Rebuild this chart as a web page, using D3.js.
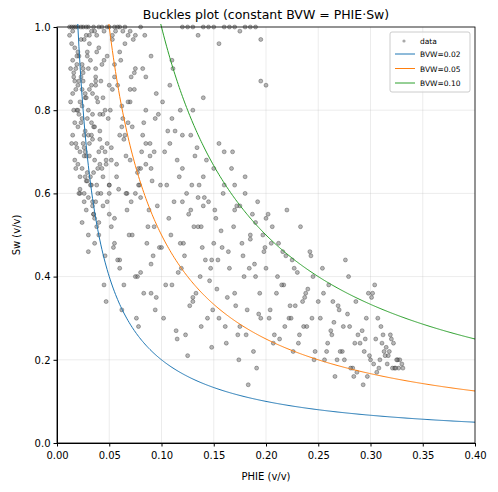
<!DOCTYPE html>
<html><head><meta charset="utf-8">
<script src="https://cdn.jsdelivr.net/npm/d3@7"></script>
<style>body{margin:0;background:#fff}text{font-family:"DejaVu Sans",sans-serif}</style>
</head><body><svg id="c" width="498" height="492"></svg>
<script>
// sample points: [PHIE, Sw]
var phie = [
0.012,0.014,0.015,0.016,0.017,0.018,0.018,0.019,0.02,0.02,0.021,0.022,0.022,0.023,0.024,0.024,0.025,0.026,0.026,0.027,0.028,0.028,0.029,0.03,0.03,0.031,0.032,0.033,0.034,0.035,0.036,0.037,0.038,0.039,0.04,
0.015,0.017,0.019,0.021,0.023,0.025,0.027,0.029,0.031,0.033,0.035,0.037,0.039,0.041,0.043,0.016,0.02,0.024,0.028,0.032,0.036,0.04,0.044,0.018,0.022,0.026,0.03,0.034,0.038,0.042,0.046,
0.02,0.024,0.028,0.03,0.033,0.036,0.04,0.043,0.046,0.05,0.025,0.029,0.034,0.038,0.045,0.048,0.052,0.027,0.031,0.035,0.041,0.047,0.026,0.03,0.037,0.044,0.05,0.055,
0.045,0.048,0.05,0.053,0.055,0.058,0.06,0.062,0.065,0.067,0.07,0.072,0.075,0.078,0.08,0.082,0.085,0.088,0.09,0.093,0.095,0.098,
0.047,0.051,0.054,0.057,0.061,0.064,0.068,0.071,0.074,0.077,0.081,0.084,0.087,0.091,0.094,0.097,0.05,0.056,0.06,0.066,0.07,0.076,0.08,0.086,0.09,0.096,
0.052,0.058,0.063,0.069,0.073,0.079,0.083,0.089,0.092,0.099,0.055,0.062,0.067,0.074,0.078,0.085,0.093,0.06,0.07,0.08,0.09,0.065,0.075,0.085,0.095,
0.1,0.102,0.105,0.108,0.11,0.112,0.115,0.118,0.12,0.122,0.125,0.128,0.13,0.132,0.135,0.138,0.14,0.142,0.145,0.148,0.15,
0.101,0.104,0.107,0.111,0.114,0.117,0.121,0.124,0.127,0.131,0.134,0.137,0.141,0.144,0.147,0.151,0.103,0.109,0.113,0.119,0.123,0.129,0.133,0.139,0.143,0.149,
0.106,0.116,0.126,0.136,0.146,0.108,0.118,0.128,0.138,0.148,0.11,0.12,0.13,0.14,
0.152,0.155,0.158,0.16,0.162,0.165,0.168,0.17,0.172,0.175,0.178,0.18,0.182,0.185,0.188,0.19,0.192,0.195,0.198,0.2,
0.153,0.157,0.161,0.164,0.167,0.171,0.174,0.177,0.181,0.184,0.187,0.191,0.194,0.197,0.154,0.159,0.163,0.169,0.173,0.179,0.183,0.189,0.193,0.199,
0.12,0.13,0.14,0.15,0.16,0.17,0.18,0.19,0.125,0.145,0.165,0.185,0.135,0.155,0.175,0.195,
0.2,0.203,0.206,0.21,0.213,0.216,0.22,0.223,0.226,0.23,0.233,0.236,0.24,0.243,0.246,0.25,0.202,0.207,0.212,0.217,0.222,0.227,0.232,0.237,0.242,0.247,
0.204,0.211,0.218,0.225,0.231,0.238,0.244,0.205,0.215,0.224,0.235,0.245,0.208,0.219,0.228,0.239,
0.252,0.256,0.26,0.263,0.266,0.27,0.273,0.276,0.28,0.283,0.286,0.29,0.293,0.296,0.3,0.302,0.305,0.308,0.31,0.313,0.316,0.32,0.323,0.326,0.33,
0.254,0.259,0.264,0.268,0.274,0.279,0.284,0.288,0.294,0.298,0.303,0.307,0.312,0.317,0.322,0.327,0.255,0.262,0.271,0.278,0.287,0.295,0.304,0.315,0.325,
0.258,0.269,0.281,0.292,0.299,0.306,0.311,0.318,0.321,0.328,0.265,0.275,0.285,0.297,0.309,0.319,0.324,0.301,0.314,0.331,
0.012,0.016,0.02,0.025,0.03,0.035,0.04,0.045,0.05,0.055,0.06,0.065,0.07,0.075,0.08,0.014,0.018,0.023,0.028,0.033,0.038,0.043,0.048,0.053,0.058,0.063,0.068,
0.11,0.12,0.13,0.14,0.15,0.16,0.17,0.175,0.18,0.19,0.195,0.2,0.115,0.135,0.155,0.17,0.185,
0.013,0.015,0.017,0.019,0.021,0.022,0.024,0.026,0.027,0.029,0.031,0.032,0.034,0.036,0.037,0.039,0.041,0.042,0.044,0.047,0.049,0.052,0.057,0.062,0.066,0.072,0.078,0.085,
0.013,0.015,0.017,0.019,0.021,0.023,0.025,0.027,0.029,0.031,0.034,0.036,0.038,0.041,0.044,0.048,0.053,0.059,0.064,0.071,0.077,0.082,0.089,0.094,
0.014,0.016,0.018,0.02,0.022,0.024,0.026,0.028,0.03,0.033,0.035,0.037,0.04,0.043,0.046,0.05,0.055,0.06,0.068,0.075,0.083,0.09
];
var sw = [
0.98,0.96,0.92,0.88,0.95,0.85,0.9,0.8,0.86,0.76,0.93,0.82,0.7,0.88,0.78,0.66,0.9,0.74,0.6,0.84,0.69,0.56,0.94,0.8,0.5,0.72,0.64,0.86,0.58,0.76,0.68,0.9,0.62,0.82,0.7,
0.99,0.87,0.91,0.79,0.97,0.72,0.83,0.65,0.98,0.77,0.55,0.88,0.6,0.75,0.66,0.8,0.94,0.85,0.63,0.92,0.48,0.95,0.57,0.72,0.6,0.97,0.74,0.84,0.52,0.87,0.7,
0.67,0.53,0.98,0.46,0.62,0.99,0.5,0.91,0.45,0.6,0.87,0.78,0.73,0.83,0.38,0.93,0.52,0.64,0.96,0.55,0.79,0.68,0.71,0.9,0.58,0.64,0.86,0.48,
0.92,0.72,0.62,0.98,0.54,0.86,0.44,0.76,0.96,0.6,0.82,0.5,0.9,0.66,0.41,0.74,0.88,0.56,0.36,0.7,0.84,0.47,
0.34,0.8,0.47,0.67,0.92,0.38,0.77,0.58,0.89,0.4,0.7,0.98,0.52,0.63,0.32,0.79,0.55,0.99,0.42,0.6,0.85,0.3,0.66,0.48,0.93,0.57,
0.68,0.44,0.78,0.5,0.97,0.62,0.36,0.72,0.45,0.62,0.88,0.32,0.56,0.85,0.28,0.67,0.52,0.94,0.68,0.59,0.43,0.74,0.4,0.8,0.35,
0.47,0.3,0.62,0.72,0.38,0.58,0.25,0.8,0.66,0.45,0.21,0.56,0.35,0.69,0.52,0.28,0.64,0.44,0.58,0.23,0.48,
0.82,0.38,0.54,0.9,0.27,0.64,0.48,0.6,0.33,0.52,0.71,0.4,0.59,0.3,0.42,0.56,0.7,0.5,0.75,0.42,0.26,0.62,0.36,0.47,0.68,0.32,
0.75,0.41,0.55,0.62,0.39,0.86,0.48,0.74,0.52,0.44,0.92,0.58,0.34,0.57,
0.54,0.3,0.47,0.62,0.24,0.42,0.7,0.36,0.57,0.28,0.45,0.64,0.32,0.5,0.22,0.4,0.58,0.3,0.46,0.54,
0.37,0.51,0.28,0.46,0.66,0.33,0.2,0.48,0.26,0.42,0.55,0.18,0.36,0.5,0.44,0.6,0.35,0.52,0.26,0.4,0.14,0.43,0.31,0.47,
1.0,1.0,1.0,1.0,1.0,1.0,1.0,1.0,1.0,1.0,1.0,1.0,0.98,0.96,0.99,0.97,
0.42,0.3,0.52,0.36,0.25,0.46,0.56,0.33,0.22,0.41,0.52,0.28,0.37,0.45,0.2,0.34,0.55,0.24,0.48,0.38,0.3,0.42,0.26,0.35,0.46,0.22,
0.32,0.4,0.28,0.44,0.24,0.36,0.3,0.48,0.38,0.3,0.34,0.4,0.26,0.45,0.33,0.28,
0.3,0.2,0.38,0.26,0.16,0.32,0.22,0.44,0.28,0.18,0.34,0.24,0.14,0.3,0.2,0.36,0.25,0.18,0.28,0.22,0.19,0.25,0.18,0.2,0.19,
0.42,0.24,0.34,0.2,0.28,0.4,0.16,0.26,0.22,0.36,0.19,0.3,0.26,0.21,0.24,0.18,0.36,0.27,0.22,0.31,0.17,0.25,0.38,0.23,0.2,
0.22,0.33,0.18,0.27,0.21,0.17,0.24,0.22,0.18,0.2,0.29,0.2,0.24,0.16,0.2,0.26,0.18,0.35,0.21,0.18,
1.0,1.0,1.0,1.0,1.0,1.0,1.0,0.99,1.0,1.0,1.0,1.0,0.99,0.98,1.0,1.0,1.0,1.0,1.0,0.99,0.98,1.0,1.0,0.97,1.0,0.99,0.98,
0.78,0.74,0.8,0.83,0.66,0.7,0.62,0.57,0.6,0.53,0.87,0.86,0.68,0.59,0.72,0.56,0.49,
0.9,0.84,0.77,0.71,0.87,0.64,0.81,0.58,0.75,0.93,0.69,0.62,0.79,0.54,0.86,0.66,0.73,0.6,0.83,0.67,0.78,0.71,0.64,0.81,0.69,0.76,0.62,0.72,
0.82,0.74,0.68,0.93,0.6,0.77,0.89,0.7,0.63,0.85,0.57,0.76,0.94,0.67,0.79,0.58,0.85,0.61,0.73,0.88,0.65,0.9,0.69,0.78,
0.72,0.89,0.66,0.8,0.61,0.91,0.69,0.83,0.59,0.74,0.65,0.87,0.53,0.71,0.8,0.62,0.91,0.74,0.82,0.6,0.77,0.66
];
var bvwValues = [0.02, 0.05, 0.10];
var bvwColors = ["#1f77b4", "#ff7f0e", "#2ca02c"];
var xTicks = [0, 0.05, 0.1, 0.15, 0.2, 0.25, 0.3, 0.35, 0.4];
var yTicks = [0, 0.2, 0.4, 0.6, 0.8, 1.0];

var svg = d3.select("#c");
var m = {l: 57, r: 475, t: 27, b: 443};
var x = d3.scaleLinear().domain([0, 0.4]).range([m.l, m.r]);
var y = d3.scaleLinear().domain([0, 1]).range([m.b, m.t]);

svg.append("defs").append("clipPath").attr("id", "clip")
    .append("rect").attr("x", m.l).attr("y", m.t - 3).attr("width", m.r - m.l).attr("height", m.b - m.t + 3);

// grid
var grid = svg.append("g").attr("stroke", "#b0b0b0").attr("stroke-opacity", 0.3).attr("stroke-width", 0.8);
xTicks.forEach(function(t) { grid.append("line").attr("x1", x(t)).attr("x2", x(t)).attr("y1", m.t).attr("y2", m.b); });
yTicks.forEach(function(t) { grid.append("line").attr("y1", y(t)).attr("y2", y(t)).attr("x1", m.l).attr("x2", m.r); });

var plot = svg.append("g").attr("clip-path", "url(#clip)");
plot.selectAll("circle").data(phie).enter().append("circle")
    .attr("cx", function(d) { return x(d); })
    .attr("cy", function(d, i) { return y(sw[i]); })
    .attr("r", 2)
    .attr("fill", "#707070").attr("fill-opacity", 0.5)
    .attr("stroke", "#111").attr("stroke-opacity", 0.5).attr("stroke-width", 0.6);

// BVW curves: Sw = BVW / PHIE
var line = d3.line().x(function(d) { return x(d[0]); }).y(function(d) { return y(d[1]); });
bvwValues.forEach(function(b, k) {
    var pts = d3.range(0.005, 0.4001, 0.001).map(function(p) { return [p, Math.min(b / p, 1.05)]; });
    plot.append("path").attr("d", line(pts)).attr("fill", "none")
        .attr("stroke", bvwColors[k]).attr("stroke-width", 1);
});

// axes
svg.append("g").attr("transform", "translate(0," + m.b + ")")
    .call(d3.axisBottom(x).tickValues(xTicks).tickFormat(d3.format(".2f")).tickSize(3.5).tickSizeOuter(0))
    .call(function(g) { g.selectAll("text").attr("font-size", 10).attr("fill", "#000").attr("dy", "0.9em"); });
svg.append("g").attr("transform", "translate(" + m.l + ",0)")
    .call(d3.axisLeft(y).tickValues(yTicks).tickFormat(d3.format(".1f")).tickSize(3.5).tickSizeOuter(0))
    .call(function(g) { g.selectAll("text").attr("font-size", 10).attr("fill", "#000"); });
svg.append("rect").attr("x", m.l).attr("y", m.t).attr("width", m.r - m.l).attr("height", m.b - m.t)
    .attr("fill", "none").attr("stroke", "#000").attr("stroke-width", 0.8);

svg.append("text").attr("x", (m.l + m.r) / 2).attr("y", 19).attr("text-anchor", "middle")
    .attr("font-size", 12.5).text("Buckles plot (constant BVW = PHIE·Sw)");
svg.append("text").attr("x", (m.l + m.r) / 2).attr("y", 480).attr("text-anchor", "middle")
    .attr("font-size", 10).text("PHIE (v/v)");
svg.append("text").attr("transform", "translate(20," + (m.t + m.b) / 2 + ") rotate(-90)")
    .attr("text-anchor", "middle").attr("font-size", 10).text("Sw (v/v)");

// legend
var lg = svg.append("g").attr("transform", "translate(390,32)");
lg.append("rect").attr("width", 80).attr("height", 60).attr("rx", 2)
    .attr("fill", "#fff").attr("fill-opacity", 0.8).attr("stroke", "#ccc");
lg.append("circle").attr("cx", 14).attr("cy", 9).attr("r", 1.6).attr("fill", "#707070").attr("fill-opacity", 0.6);
lg.append("text").attr("x", 30).attr("y", 12).attr("font-size", 7.5).text("data");
bvwValues.forEach(function(b, k) {
    var yy = 22 + k * 14.5;
    lg.append("line").attr("x1", 5).attr("x2", 25).attr("y1", yy).attr("y2", yy).attr("stroke", bvwColors[k]);
    lg.append("text").attr("x", 30).attr("y", yy + 3).attr("font-size", 7.5).text("BVW=" + b.toFixed(2));
});
</script></body></html>
